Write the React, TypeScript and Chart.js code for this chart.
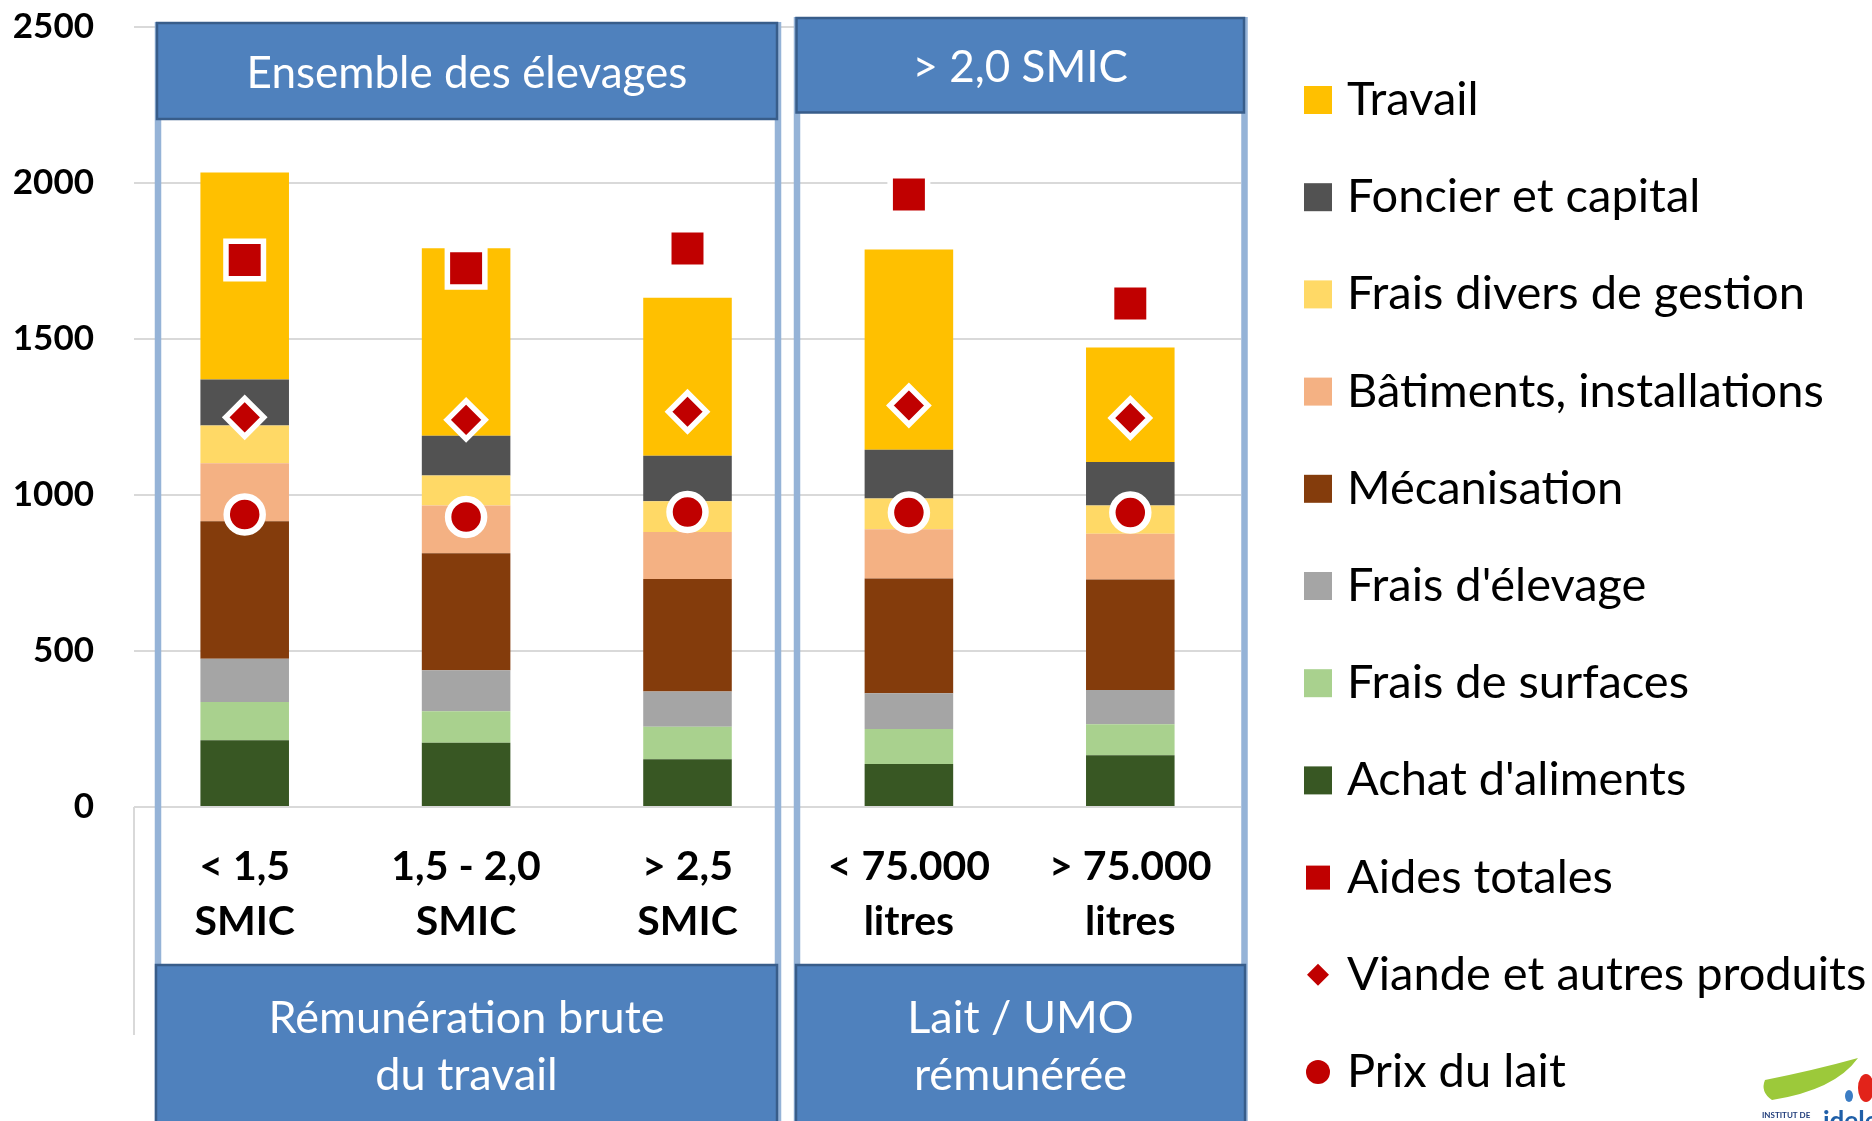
import React, { useEffect, useRef } from 'react';
import { Chart, registerables } from 'chart.js';

Chart.register(...registerables);

// ---------- data ----------
const categories = [
  ['< 1,5', 'SMIC'],
  ['1,5 - 2,0', 'SMIC'],
  ['> 2,5', 'SMIC'],
  ['< 75.000', 'litres'],
  ['> 75.000', 'litres'],
];
const achatAliments = [214, 206, 153, 138, 166];
const fraisSurfaces = [122, 101, 104, 112, 99];
const fraisElevage = [139, 131, 113, 114, 110];
const mecanisation = [440, 375, 360, 368, 354];
const batiments = [186, 153, 151, 158, 146];
const fraisDivers = [121, 96, 98, 98, 91];
const foncierCapital = [147, 127, 146, 156, 139];
const travail = [663, 601, 506, 642, 367];
const aidesTotales = [1752, 1726, 1789, 1962, 1613];
const viandeAutres = [1248, 1240, 1266, 1286, 1246];
const prixLait = [937, 929, 945, 943, 943];

const yMin = 0;
const yMax = 2500;
const yStep = 500;

const panelTitles = ['Ensemble des élevages', '> 2,0 SMIC'];
const panelFooters = [
  ['Rémunération brute', 'du travail'],
  ['Lait / UMO', 'rémunérée'],
];

const barSeries = [
  { label: "Achat d'aliments", data: achatAliments, color: '#385723' },
  { label: 'Frais de surfaces', data: fraisSurfaces, color: '#A9D18E' },
  { label: "Frais d'élevage", data: fraisElevage, color: '#A5A5A5' },
  { label: 'Mécanisation', data: mecanisation, color: '#843C0C' },
  { label: 'Bâtiments, installations', data: batiments, color: '#F4B183' },
  { label: 'Frais divers de gestion', data: fraisDivers, color: '#FFD966' },
  { label: 'Foncier et capital', data: foncierCapital, color: '#525252' },
  { label: 'Travail', data: travail, color: '#FFC000' },
];
const pointSeries = [
  { label: 'Aides totales', data: aidesTotales, style: 'rect', radius: 26.5, border: 5.5 },
  { label: 'Viande et autres produits', data: viandeAutres, style: 'rectRot', radius: 19, border: 5.5 },
  { label: 'Prix du lait', data: prixLait, style: 'circle', radius: 18, border: 6.5 },
];
const RED = '#C00000';
const FONT = 'Lato, "Open Sans", sans-serif';

// ---------- plugins (decoration) ----------
const panelPlugin = {
  id: 'panels',
  beforeDatasetsDraw(chart: any) {
    const ctx = chart.ctx;
    const area = chart.chartArea;
    ctx.save();
    ctx.strokeStyle = '#D9D9D9';
    ctx.lineWidth = 2;
    ctx.beginPath();
    ctx.moveTo(area.left, area.bottom);
    ctx.lineTo(area.left, 1035);
    ctx.stroke();

    const frames = [
      { l: 158, r: 778, top: 22 },
      { l: 797, r: 1244.5, top: 17 },
    ];
    ctx.strokeStyle = '#95B3D7';
    ctx.lineWidth = 6.5;
    frames.forEach((f) => {
      ctx.beginPath();
      ctx.moveTo(f.l, f.top);
      ctx.lineTo(f.l, 1130);
      ctx.moveTo(f.r, f.top);
      ctx.lineTo(f.r, 1130);
      ctx.stroke();
    });

    const headers = [
      { x0: 157, x1: 777, y0: 23, y1: 119, base: 88 },
      { x0: 796.5, x1: 1244, y0: 18, y1: 112.5, base: 82 },
    ];
    headers.forEach((h, i) => {
      ctx.fillStyle = '#4F81BD';
      ctx.fillRect(h.x0, h.y0, h.x1 - h.x0, h.y1 - h.y0);
      ctx.strokeStyle = '#385D8A';
      ctx.lineWidth = 2.5;
      ctx.strokeRect(h.x0, h.y0, h.x1 - h.x0, h.y1 - h.y0);
      ctx.fillStyle = '#FFFFFF';
      ctx.font = `44px ${FONT}`;
      ctx.textAlign = 'center';
      ctx.textBaseline = 'alphabetic';
      ctx.fillText(panelTitles[i], (h.x0 + h.x1) / 2, h.base);
    });

    const footers = [
      { x0: 156, x1: 777, y0: 965 },
      { x0: 796, x1: 1245, y0: 965 },
    ];
    footers.forEach((f, i) => {
      ctx.fillStyle = '#4F81BD';
      ctx.fillRect(f.x0, f.y0, f.x1 - f.x0, 1130 - f.y0);
      ctx.strokeStyle = '#385D8A';
      ctx.lineWidth = 2.5;
      ctx.strokeRect(f.x0, f.y0, f.x1 - f.x0, 1130 - f.y0);
      ctx.fillStyle = '#FFFFFF';
      ctx.font = `45px ${FONT}`;
      ctx.textAlign = 'center';
      ctx.textBaseline = 'alphabetic';
      panelFooters[i].forEach((line, j) => {
        ctx.fillText(line, (f.x0 + f.x1) / 2, 1033 + j * 57);
      });
    });
    ctx.restore();
  },
};

const legendPlugin = {
  id: 'customLegend',
  afterDraw(chart: any) {
    const ctx = chart.ctx;
    ctx.save();
    const boxX = 1304;
    const textX = 1347;
    const rowY0 = 100;
    const rowGap = 97.2;
    const items: any[] = [];
    for (let i = barSeries.length - 1; i >= 0; i--) items.push({ kind: 'bar', label: barSeries[i].label, color: barSeries[i].color });
    pointSeries.forEach((p) => items.push({ kind: p.style, label: p.label, color: RED }));
    items.forEach((it, i) => {
      const cy = rowY0 + i * rowGap;
      const cx = boxX + 14;
      ctx.fillStyle = it.color;
      if (it.kind === 'bar') {
        ctx.fillRect(boxX, cy - 14, 28, 28);
      } else if (it.kind === 'rect') {
        ctx.fillRect(cx - 12, cy - 12, 24, 24);
      } else if (it.kind === 'rectRot') {
        ctx.beginPath();
        ctx.moveTo(cx, cy - 11);
        ctx.lineTo(cx + 11, cy);
        ctx.lineTo(cx, cy + 11);
        ctx.lineTo(cx - 11, cy);
        ctx.closePath();
        ctx.fill();
      } else {
        ctx.beginPath();
        ctx.arc(cx, cy, 12, 0, Math.PI * 2);
        ctx.fill();
      }
      ctx.fillStyle = '#000000';
      ctx.font = `47px ${FONT}`;
      ctx.textAlign = 'left';
      ctx.textBaseline = 'alphabetic';
      ctx.fillText(it.label, textX, cy + 15);
    });

    // small logo, bottom right
    ctx.fillStyle = '#9CC93A';
    ctx.beginPath();
    ctx.moveTo(1765, 1080);
    ctx.quadraticCurveTo(1815, 1070, 1858, 1058);
    ctx.quadraticCurveTo(1835, 1090, 1772, 1100);
    ctx.quadraticCurveTo(1760, 1092, 1765, 1080);
    ctx.fill();
    ctx.fillStyle = '#E2231A';
    ctx.beginPath();
    ctx.ellipse(1866, 1088, 8, 14, 0, 0, Math.PI * 2);
    ctx.fill();
    ctx.fillStyle = '#3C7DC4';
    ctx.beginPath();
    ctx.ellipse(1849, 1096, 4, 6, 0, 0, Math.PI * 2);
    ctx.fill();
    ctx.fillStyle = '#1F3C7A';
    ctx.font = `bold 8px ${FONT}`;
    ctx.textAlign = 'left';
    ctx.fillText('INSTITUT DE', 1762, 1118);
    ctx.fillStyle = '#1F5FA8';
    ctx.font = `bold 26px ${FONT}`;
    ctx.fillText('idele', 1823, 1130);
    ctx.restore();
  },
};

export default function App() {
  const canvasRef = useRef<HTMLCanvasElement | null>(null);

  useEffect(() => {
    if (!canvasRef.current) return;
    const datasets: any[] = [
      ...barSeries.map((s) => ({
        type: 'bar',
        label: s.label,
        data: s.data,
        backgroundColor: s.color,
        borderWidth: 0,
        barPercentage: 0.4,
        categoryPercentage: 1,
        stack: 'bars',
      })),
      ...pointSeries.map((p, i) => ({
        type: 'line',
        label: p.label,
        data: p.data,
        showLine: false,
        pointStyle: p.style,
        pointRadius: p.radius,
        pointHoverRadius: p.radius,
        pointBackgroundColor: RED,
        pointBorderColor: '#FFFFFF',
        pointBorderWidth: p.border,
        pointHoverBorderWidth: p.border,
        stack: 'pt' + i,
        order: -1,
        clip: false,
      })),
    ];
    const chart = new Chart(canvasRef.current, {
      type: 'bar',
      data: { labels: categories as any, datasets },
      options: {
        responsive: true,
        maintainAspectRatio: false,
        animation: false,
        events: [],
        layout: { autoPadding: false, padding: { left: 0, right: 631, top: 26.5, bottom: 0 } },
        plugins: {
          legend: { display: false },
          tooltip: { enabled: false },
        },
        scales: {
          x: {
            grid: { display: false, drawTicks: false },
            border: { display: false },
            ticks: {
              color: '#000000',
              font: { family: FONT, size: 41, weight: 'bold', lineHeight: 1.35 },
              padding: 32,
              maxRotation: 0,
              autoSkip: false,
            },
            afterFit: (s: any) => {
              s.height = 314;
            },
          },
          y: {
            stacked: true,
            min: yMin,
            max: yMax,
            grid: { color: '#D9D9D9', lineWidth: 2, drawTicks: false },
            border: { display: false },
            ticks: {
              stepSize: yStep,
              color: '#000000',
              font: { family: FONT, size: 35, weight: 'bold' },
              padding: 40,
              callback: (v: any) => String(v),
            },
            afterFit: (s: any) => {
              s.width = 134;
              s.paddingTop = 0;
              s.paddingBottom = 0;
            },
          },
        },
      } as any,
      plugins: [panelPlugin, legendPlugin],
    });
    return () => chart.destroy();
  }, []);

  return (
    <div style={{ position: 'absolute', left: 0, top: 0, width: 1872, height: 1121, background: '#FFFFFF' }}>
      <canvas ref={canvasRef} />
    </div>
  );
}
